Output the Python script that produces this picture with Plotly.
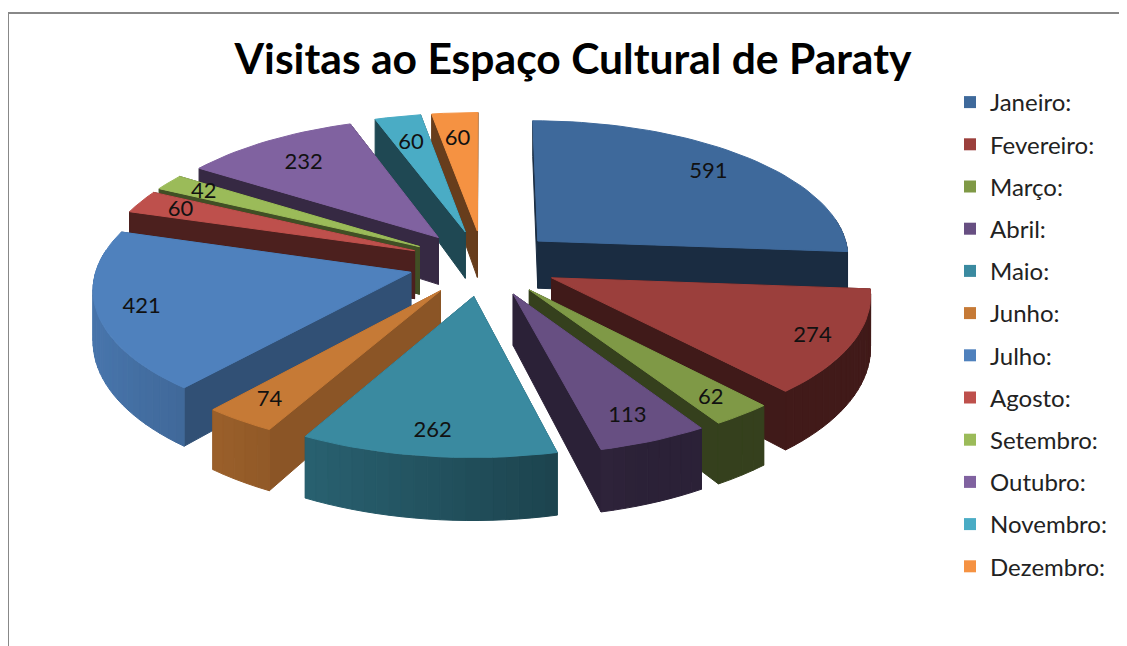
import math
import plotly.graph_objects as go

months = ["Janeiro:", "Fevereiro:", "Março:", "Abril:", "Maio:", "Junho:", "Julho:",
          "Agosto:", "Setembro:", "Outubro:", "Novembro:", "Dezembro:"]
visits = [591, 274, 62, 113, 262, 74, 421, 60, 42, 232, 60, 60]
colors = [(62, 105, 155), (155, 63, 60), (127, 153, 70), (103, 79, 130), (58, 138, 160), (198, 122, 54),
          (79, 129, 189), (190, 80, 76), (155, 187, 89), (128, 98, 160), (74, 172, 197), (245, 146, 66)]
wall_shade = [.42, .41, .42, .42, .6, .70, .62, .40, .42, .42, .42, .42]
label_radius = [.82, .88, .872, .843, .855, .854, .855, .842, .847, .765, .758, .77]

W, H, PAGE_MARGIN = 1127, 646, 8
CX, CY, RX, RY, K, EXPLODE = 483.5, 263, 313, 137, .1035, .24


def project(X, Y, z=0):
    s = 1 / (1 + K * Y)
    return CX + RX * X * s, CY - RY * Y * s + z * (49 - 11.3 * Y)


def shade(c, f):
    return "rgb(%d,%d,%d)" % tuple(round(v * f) for v in c)


def polygon(points, color, name=""):
    xs = [p[0] for p in points] + [points[0][0]]
    ys = [p[1] for p in points] + [points[0][1]]
    return go.Scatter(x=xs, y=ys, mode="lines", fill="toself", fillcolor=color,
                      line=dict(color=color, width=1), showlegend=False, name=name,
                      hoverinfo="skip")


fig = go.Figure()
total = sum(visits)
slices = []
cum = 0
for i, v in enumerate(visits):
    a0 = 2 * math.pi * cum / total
    a1 = 2 * math.pi * (cum + v) / total
    cum += v
    mid = (a0 + a1) / 2
    slices.append(dict(i=i, a0=a0, a1=a1, mid=mid, ox=EXPLODE * math.sin(mid), oy=EXPLODE * math.cos(mid)))

for sl in sorted(slices, key=lambda q: -q["oy"]):
    i, a0, a1, ox, oy = sl["i"], sl["a0"], sl["a1"], sl["ox"], sl["oy"]
    c = colors[i]
    steps = max(2, int((a1 - a0) / math.radians(2)))
    arc = [(ox + math.sin(a0 + (a1 - a0) * t / steps), oy + math.cos(a0 + (a1 - a0) * t / steps))
           for t in range(steps + 1)]
    walls = []
    for end in (arc[0], arc[-1]):
        walls.append(((ox, oy), end, wall_shade[i], (oy + end[1]) / 2))
    for p, q in zip(arc, arc[1:]):
        xm = (p[0] + q[0]) / 2
        if (p[1] + q[1]) / 2 - oy < .15:
            walls.append((p, q, min(.9, max(.42, .55 - .3 * xm)), (p[1] + q[1]) / 2))
    for p, q, f, _ in sorted(walls, key=lambda w: -w[3]):
        pts = [project(*p), project(*q), project(*q, 1), project(*p, 1)]
        fig.add_trace(polygon(pts, shade(c, f), months[i]))
    fig.add_trace(polygon([project(ox, oy)] + [project(*p) for p in arc], shade(c, 1), months[i]))

lx, ly = [], []
for sl in slices:
    r = label_radius[sl["i"]]
    px, py = project(sl["ox"] + r * math.sin(sl["mid"]), sl["oy"] + r * math.cos(sl["mid"]))
    lx.append(px - 2)
    ly.append(py + 1)
fig.add_trace(go.Scatter(x=lx, y=ly, mode="text", text=[str(v) for v in visits],
                         textfont=dict(family="Lato", size=22, color="#111"),
                         showlegend=False, hoverinfo="skip"))

for m, c in zip(months, colors):
    fig.add_trace(go.Scatter(x=[None], y=[None], mode="markers", name=m, legendgroup=m,
                             marker=dict(symbol="square", size=12, color=shade(c, 1))))

# The page adds an 8 px margin round the figure; the axes run in picture pixels.
fw, fh = W - PAGE_MARGIN, H - PAGE_MARGIN


def paper_x(x):
    return (x - PAGE_MARGIN) / fw


def paper_y(y):
    return 1 - (y - PAGE_MARGIN) / fh


fig.update_layout(
    width=fw, height=fh, margin=dict(l=0, r=0, t=0, b=0),
    paper_bgcolor="white", plot_bgcolor="white",
    xaxis=dict(range=[PAGE_MARGIN, W], visible=False, fixedrange=True),
    yaxis=dict(range=[H, PAGE_MARGIN], visible=False, fixedrange=True),
    title=dict(text="<b>Visitas ao Espaço Cultural de Paraty</b>", x=paper_x(573), xanchor="center",
               y=paper_y(59), yanchor="middle", font=dict(family="Lato", size=42.6, color="black")),
    legend=dict(x=paper_x(950), xanchor="left", y=paper_y(80), yanchor="top",
                font=dict(family="Lato", size=24, color="#222"), tracegroupgap=8,
                bgcolor="rgba(0,0,0,0)"),
    shapes=[dict(type="line", x0=8, x1=W, y0=13, y1=13, line=dict(color="#888", width=2)),
            dict(type="line", x0=8, x1=8, y0=13, y1=H, line=dict(color="#888", width=2))],
)
fig.write_html("out.html")
